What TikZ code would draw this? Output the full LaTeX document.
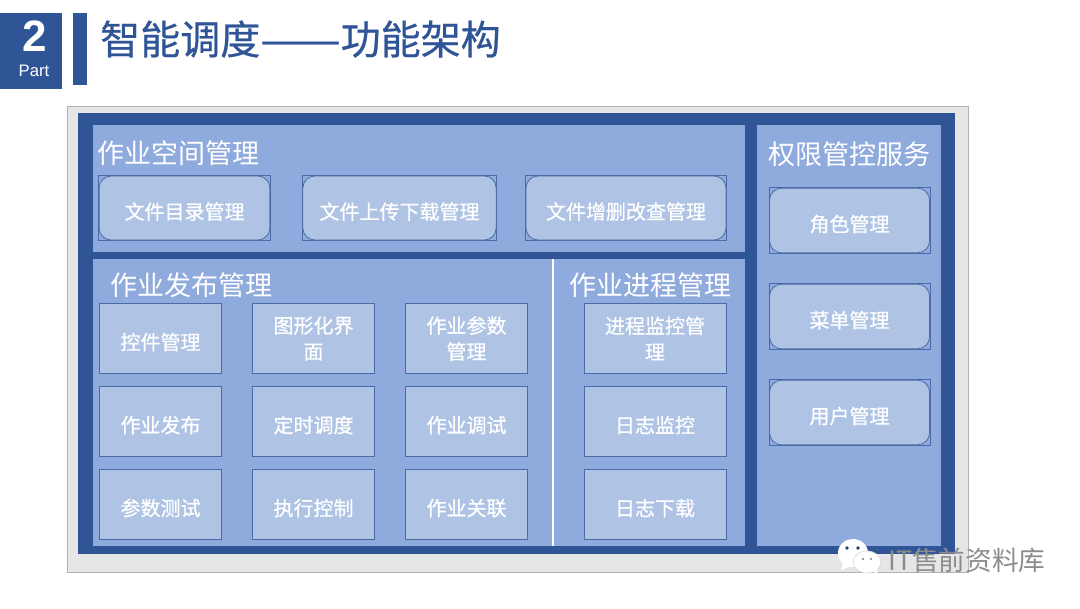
\documentclass[tikz,border=0pt]{standalone}
\usepackage{fontspec}
\setmainfont{Liberation Sans}
\newfontfamily\cjk{Noto Sans CJK SC}
\newfontfamily\cjkmid[FakeBold=0.6]{Noto Sans CJK SC}
\definecolor{DarkClr}{HTML}{2F5597}
\definecolor{PanelClr}{HTML}{8FAADC}
\definecolor{BoxClr}{HTML}{AFC4E5}
\definecolor{FrameClr}{HTML}{E7E6E6}
\definecolor{EdgeClr}{HTML}{4A6BA5}
\definecolor{MarkClr}{HTML}{8C8C8C}
\tikzset{
  panelhead/.style={anchor=west,inner sep=0pt,text=white,font=\cjk\fontsize{20.25}{24}\selectfont},
  funcbox/.style={rectangle,draw=EdgeClr,line width=0.6pt,fill=BoxClr,inner sep=0pt,align=center,
    text=white,font=\cjkmid\fontsize{15}{19.5}\selectfont,execute at begin node={\rule{0pt}{18pt}}},
  roundbox/.style={funcbox,rounded corners=9pt,append after command={\pgfextra{
    \draw[EdgeClr,line width=0.5pt,sharp corners] (\tikzlastnode.north west) rectangle (\tikzlastnode.south east);}}},
  gridbox/.style={funcbox,minimum width=92pt,minimum height=53pt},
  rightbox/.style={roundbox,minimum width=120pt,minimum height=48.5pt}
}

\begin{document}
\begin{tikzpicture}[x=0.75pt,y=-0.75pt]
\useasboundingbox (0,0) rectangle (1080,608);

% heading
\fill[DarkClr] (0,13) rectangle (62,89);
\fill[DarkClr] (73,13) rectangle (87,85);
\node[text=white,inner sep=0pt,font=\bfseries\fontsize{33}{33}\selectfont] (partnum) at (35,36) {2};
\node[text=white,inner sep=0pt,font=\fontsize{12.5}{14}\selectfont] (partname) at (34,71) {Part};
\node[anchor=west,inner sep=0pt,text=DarkClr,font=\cjkmid\fontsize{30}{34}\selectfont] (title) at (100,39)
  {智能调度\scalebox{1.2}[1]{——}功能架构};

% frame and panels
\filldraw[fill=FrameClr,draw=gray!60,line width=0.6pt] (67,106) rectangle (968,572);
\fill[DarkClr] (78,113) rectangle (955,554);
\fill[PanelClr] (93,125) rectangle (745,252);
\fill[PanelClr] (93,259) rectangle (745,546);
\fill[PanelClr] (757,125) rectangle (941,546);
\draw[white,line width=1pt] (553,259) -- (553,546);

\node[panelhead] (spacehead) at (97,153) {作业空间管理};
\node[panelhead] (publishhead) at (110,285) {作业发布管理};
\node[panelhead] (processhead) at (569,285) {作业进程管理};
\node[panelhead] (authhead) at (768,154) {权限管控服务};

% workspace boxes
\node[roundbox,minimum width=128pt,minimum height=48pt] (filedir) at (184.5,208) {文件目录管理};
\node[roundbox,minimum width=145pt,minimum height=48pt] (fileload) at (399.5,208) {文件上传下载管理};
\node[roundbox,minimum width=150pt,minimum height=48pt] (fileedit) at (626,208) {文件增删改查管理};

% publish boxes
\foreach \name/\cx/\cy/\txt in {
  widget/160.5/338.5/控件管理, gui/313.5/338.5/{图形化界\\面}, param/466.5/338.5/{作业参数\\管理},
  publish/160.5/421.5/作业发布, timer/313.5/421.5/定时调度, debug/466.5/421.5/作业调试,
  paramtest/160.5/504.5/参数测试, exec/313.5/504.5/执行控制, link/466.5/504.5/作业关联}
  \node[gridbox] (\name) at (\cx,\cy) {\txt};

% process boxes
\foreach \name/\cy/\txt in {monitor/338.5/{进程监控管\\理}, logwatch/421.5/日志监控, logget/504.5/日志下载}
  \node[gridbox,minimum width=106.5pt] (\name) at (655,\cy) {\txt};

% right column
\foreach \name/\cy/\txt in {role/220.5/角色管理, menu/316.5/菜单管理, user/412.5/用户管理}
  \node[rightbox] (\name) at (849.5,\cy) {\txt};

% watermark
\fill[white] (853,553) ellipse (15 and 14);
\fill[white] (843,563) -- (841,570) -- (851,566) -- cycle;
\filldraw[fill=white,draw=gray!35,line width=0.4pt] (867,562) ellipse (14 and 11);
\fill[white] (871,570) -- (878,575) -- (877,568) -- cycle;
\fill[DarkClr!70!black] (847,548) circle (1.8) (858,548) circle (1.8);
\fill[gray] (863,559) circle (1.2) (871,559) circle (1.2);
\node[anchor=west,inner sep=0pt,text=MarkClr,font=\cjk\fontsize{20}{22}\selectfont] (mark) at (888,560) {IT售前资料库};
\end{tikzpicture}
\end{document}
